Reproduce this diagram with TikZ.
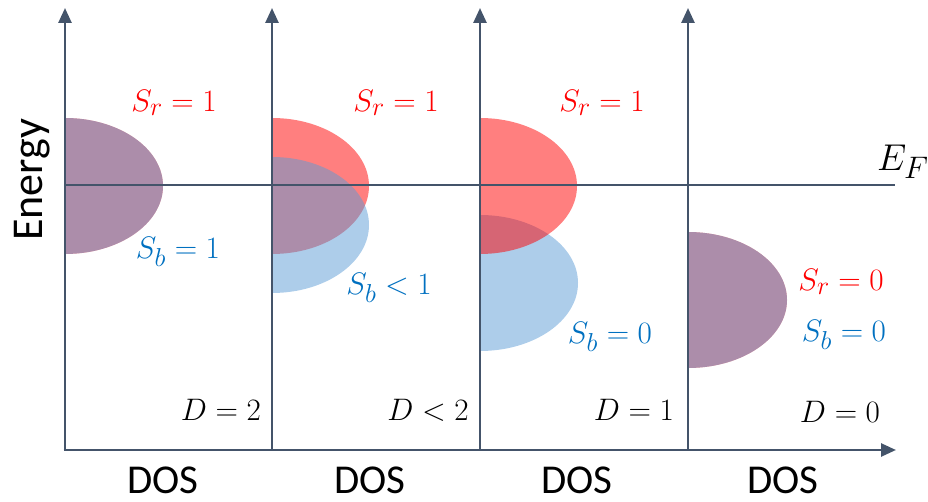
\documentclass[tikz,border=0pt]{standalone}
\usepackage{fontspec}
\setmainfont{Carlito}
\usetikzlibrary{arrows.meta}
\definecolor{axiscol}{RGB}{68,84,106}
\definecolor{redtxt}{RGB}{255,0,0}
\definecolor{bluetxt}{RGB}{0,112,192}
\definecolor{bluefill}{RGB}{91,155,213}
\tikzset{
  axisline/.style={draw=axiscol, line width=2.6pt, -{Triangle[length=15pt,width=13pt]}},
  efline/.style={draw=axiscol, line width=1.3pt},
  redband/.style={fill=red, fill opacity=0.5},
  blueband/.style={fill=bluefill, fill opacity=0.5},
  mlab/.style={font=\fontsize{30}{34}\selectfont, inner sep=0pt, scale=1.25},
  rlab/.style={mlab, text=redtxt},
  blab/.style={mlab, text=bluetxt},
  klab/.style={mlab, text=black},
  doslab/.style={text=black, font=\fontsize{41}{46}\selectfont, inner sep=0pt}
}
\begin{document}
\begin{tikzpicture}[x=1pt,y=1pt]
\useasboundingbox (0,0) rectangle (928,502);
% density-of-states bands
\fill[redband]  (65,384) arc[start angle=90,end angle=-90,x radius=98,y radius=68] -- cycle;
\fill[blueband] (65,384) arc[start angle=90,end angle=-90,x radius=98,y radius=68] -- cycle;
\fill[redband]  (272,384) arc[start angle=90,end angle=-90,x radius=97,y radius=68] -- cycle;
\fill[blueband] (272,345) arc[start angle=90,end angle=-90,x radius=97,y radius=68] -- cycle;
\fill[blueband] (480,287) arc[start angle=90,end angle=-90,x radius=98,y radius=68] -- cycle;
\fill[redband]  (480,384) arc[start angle=90,end angle=-90,x radius=97,y radius=68] -- cycle;
\fill[redband]  (688,270) arc[start angle=90,end angle=-90,x radius=99,y radius=68] -- cycle;
\fill[blueband] (688,270) arc[start angle=90,end angle=-90,x radius=99,y radius=68] -- cycle;
% axes
\coordinate (o1) at (65,52);  \coordinate (t1) at (65,494);
\coordinate (o2) at (272,52); \coordinate (t2) at (272,494);
\coordinate (o3) at (480,52); \coordinate (t3) at (480,494);
\coordinate (o4) at (688,52); \coordinate (t4) at (688,494);
\coordinate (xe) at (896,52);
\coordinate (f1) at (65,317); \coordinate (f2) at (895,317);
\draw[efline] (f1) -- (f2);
\draw[axisline] (o1) -- (t1);
\draw[axisline] (o2) -- (t2);
\draw[axisline] (o3) -- (t3);
\draw[axisline] (o4) -- (t4);
\draw[axisline] ([xshift=-1.3pt]o1) -- (xe);
% labels
\node[rlab] (sr1) at (174,399) {$S_r = 1$};
\node[rlab] (sr2) at (396,399) {$S_r = 1$};
\node[rlab] (sr3) at (602,399) {$S_r = 1$};
\node[klab, scale=1.2] (ef) at (903,340) {$E_F$};
\node[blab] (sb1) at (178,250) {$S_b = 1$};
\node[blab] (sb2) at (389,214) {$S_b < 1$};
\node[blab] (sb3) at (610,165) {$S_b = 0$};
\node[rlab] (sr4) at (841,220) {$S_r = 0$};
\node[blab] (sb4) at (844,167) {$S_b = 0$};
\node[klab] (d1) at (221,92) {$D = 2$};
\node[klab] (d2) at (428,92) {$D < 2$};
\node[klab] (d3) at (634,92) {$D = 1$};
\node[klab] (d4) at (840,90) {$D = 0$};
\node[doslab] (dos1) at (163,22) {DOS};
\node[doslab] (dos2) at (370,22) {DOS};
\node[doslab] (dos3) at (577,22) {DOS};
\node[doslab] (dos4) at (783,22) {DOS};
\node[doslab, font=\fontsize{44}{50}\selectfont, rotate=90] (en) at (32,322) {Energy};
\end{tikzpicture}
\end{document}
